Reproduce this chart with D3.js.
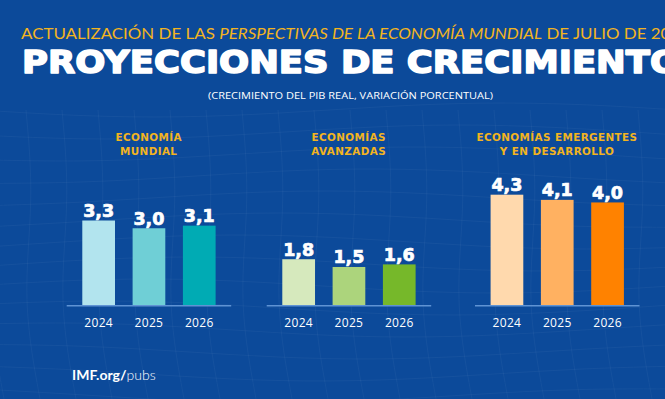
<!DOCTYPE html>
<html>
<head>
<meta charset="utf-8">
<script src="https://cdn.jsdelivr.net/npm/d3@7"></script>
<style>
  body { margin: 0; background: #0c4a9a; }
  svg { display: block; }
</style>
</head>
<body>
<div id="plot"></div>
<script>
// Data
var years = ["2024", "2025", "2026"];
var groupTitles = [["ECONOMÍA", "MUNDIAL"], ["ECONOMÍAS", "AVANZADAS"], ["ECONOMÍAS EMERGENTES", "Y EN DESARROLLO"]];
var mundial = [3.3, 3.0, 3.1];
var avanzadas = [1.8, 1.5, 1.6];
var emergentes = [4.3, 4.1, 4.0];
var groupColors = [
	["#b2e4ee", "#6fcfd6", "#00abb4"],
	["#d6e9bd", "#acd47c", "#76b82a"],
	["#ffd9ad", "#ffb161", "#ff8200"]
];

var width = 665, height = 399;

var svg = d3.select("#plot")
	.append("svg")
	.attr("width", width)
	.attr("height", height);

// Background
svg.append("rect")
	.attr("width", width)
	.attr("height", height)
	.attr("fill", "#0c4a9a");

// Faint wavy mesh in the background
var mesh = svg.append("g")
	.attr("fill", "none")
	.attr("stroke", "#ffffff")
	.attr("stroke-opacity", 0.05)
	.attr("stroke-width", 0.8);
var line = d3.line().curve(d3.curveBasis);
d3.range(0, 14).forEach(function(i){
	var yy = 110 + i * 22;
	mesh.append("path").attr("d", line(d3.range(0, 8).map(function(k){
		return [k * 100 - 20, yy + Math.sin(k * 0.9 + i * 0.4) * 8];
	})));
});
d3.range(0, 20).forEach(function(i){
	var xx = i * 36 - 10;
	mesh.append("path").attr("d", line([[xx, 110], [xx + 8, 200], [xx - 4, 300], [xx + 14, 399]]));
});

// Header
var header = svg.append("text")
	.attr("x", 21)
	.attr("y", 39)
	.attr("fill", "#f2b41f")
	.style("font-family", "Lato")
	.style("font-size", "15px")
	.attr("textLength", 669)
	.attr("lengthAdjust", "spacingAndGlyphs");
header.append("tspan").text("ACTUALIZACIÓN DE LAS ");
header.append("tspan").style("font-style", "italic").text("PERSPECTIVAS DE LA ECONOMÍA MUNDIAL");
header.append("tspan").text(" DE JULIO DE 2025");

svg.append("text")
	.attr("x", 22)
	.attr("y", 73)
	.attr("fill", "#ffffff")
	.attr("stroke", "#ffffff")
	.attr("stroke-width", 1.6)
	.attr("stroke-linejoin", "round")
	.style("font-family", "DejaVu Sans")
	.style("font-weight", "bold")
	.style("font-size", "32px")
	.attr("textLength", 658)
	.attr("lengthAdjust", "spacingAndGlyphs")
	.text("PROYECCIONES DE CRECIMIENTO");

svg.append("text")
	.attr("x", 208)
	.attr("y", 99)
	.attr("fill", "#ffffff")
	.style("font-family", "Open Sans")
	.style("font-size", "9px")
	.attr("textLength", 285)
	.attr("lengthAdjust", "spacingAndGlyphs")
	.text("(CRECIMIENTO DEL PIB REAL, VARIACIÓN PORCENTUAL)");

// Shared y scale
var y = d3.scaleLinear()
	.domain([0, 4.3])
	.range([305.7, 194.7]);

var panels = [
	{values: mundial, x0: 66.7},
	{values: avanzadas, x0: 266.7},
	{values: emergentes, x0: 475}
];

panels.forEach(function(p, gi){
	var x = d3.scaleBand()
		.domain(years)
		.range([p.x0, p.x0 + 164.5])
		.paddingInner(0.35)
		.paddingOuter(0.31);

	var g = svg.append("g");

	// Panel title
	var cx = p.x0 + 82;
	groupTitles[gi].forEach(function(t, li){
		g.append("text")
			.attr("x", cx)
			.attr("y", 141 + li * 14)
			.attr("text-anchor", "middle")
			.attr("fill", "#f2b41f")
			.style("font-family", "DejaVu Sans")
			.style("font-weight", "bold")
			.style("font-size", "10.4px")
			.style("letter-spacing", "0.4px")
			.text(t);
	});

	// Bars
	g.selectAll("rect.bar")
		.data(p.values).enter()
		.append("rect")
		.attr("class", "bar")
		.attr("x", function(d, i){ return x(years[i]); })
		.attr("y", function(d){ return y(d); })
		.attr("width", x.bandwidth())
		.attr("height", function(d){ return y(0) - y(d); })
		.attr("fill", function(d, i){ return groupColors[gi][i]; });

	// Value labels
	g.selectAll("text.val")
		.data(p.values).enter()
		.append("text")
		.attr("class", "val")
		.attr("x", function(d, i){ return x(years[i]) + x.bandwidth() / 2; })
		.attr("y", function(d){ return y(d) - 3.5; })
		.attr("text-anchor", "middle")
		.attr("fill", "#ffffff")
		.attr("stroke", "#ffffff")
		.attr("stroke-width", 0.7)
		.style("font-family", "DejaVu Sans")
		.style("font-weight", "bold")
		.style("font-size", "17.5px")
		.text(function(d){ return d3.format(".1f")(d).replace(".", ","); });

	// Baseline axis
	var axis = g.append("g")
		.attr("transform", "translate(0," + y(0) + ")")
		.call(d3.axisBottom(x).tickSize(0).tickPadding(13));
	axis.select(".domain")
		.attr("d", "M" + p.x0 + ",0H" + (p.x0 + 164.5))
		.attr("stroke", "#5f93d4")
		.attr("stroke-width", 1.5);
	axis.selectAll("text")
		.attr("fill", "#ffffff")
		.style("font-family", "Open Sans")
		.style("font-size", "12px")
		.style("letter-spacing", "0.3px");
});

// Footer
var foot = svg.append("text")
	.attr("x", 72)
	.attr("y", 380)
	.attr("fill", "#ffffff")
	.style("font-family", "Lato")
	.style("font-size", "14px");
foot.append("tspan").style("font-weight", "bold").text("IMF.org/");
foot.append("tspan").style("font-weight", 300).text("pubs");
</script>
</body>
</html>
